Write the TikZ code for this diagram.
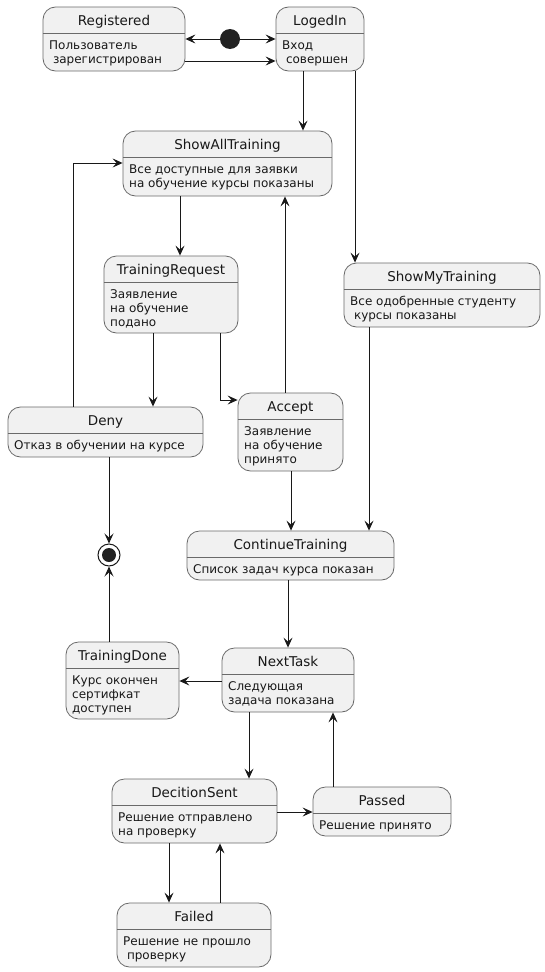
\documentclass[tikz,border=0pt]{standalone}
\usepackage{fontspec}
\setmainfont{DejaVu Sans}
\usetikzlibrary{arrows.meta,fit}

\definecolor{statefill}{HTML}{F1F1F1}
\definecolor{stateborder}{HTML}{6A6A6A}
\definecolor{linecol}{HTML}{181818}
\definecolor{dotcol}{HTML}{222222}

\tikzset{
  statebox/.style={draw=stateborder, fill=statefill, line width=0.8pt,
    rounded corners=12.5pt, inner sep=0pt},
  sepline/.style={draw=stateborder, line width=0.8pt},
  statetitle/.style={font=\fontsize{13.5}{16}\selectfont, text=linecol,
    anchor=base, inner sep=0pt},
  statebody/.style={font=\fontsize{12}{14}\selectfont, text=linecol,
    align=left, anchor=north west, inner sep=0pt},
  arr/.style={draw=linecol, line width=1pt,
    -{Stealth[length=10pt,width=9pt,inset=4pt]}},
}

% state: name, x1, y1, x2, y2, separator y, title, body
\newcommand\umlstate[8]{%
  \node[statebox, fit={(#2,#3) (#4,#5)}] (#1) {};
  \draw[sepline] (#1.west |- 0,#6) -- (#1.east |- 0,#6);
  \node[statetitle] (#1-title) at ({(#2+#4)/2},{#6-8}) {#7};
  \node[statebody] (#1-body) at ({#2+6},{#6+6}) {\rule{0pt}{10pt}#8};
}
\newcommand\lead{\hspace*{3.8pt}}

\begin{document}
\begin{tikzpicture}[x=1pt,y=-1pt]
\useasboundingbox (0,0) rectangle (545,972);

% states
\umlstate{Registered}{43}{7}{185}{71}{33}{Registered}{Пользователь\\\lead зарегистрирован}
\umlstate{LogedIn}{276}{7}{364}{71}{33}{LogedIn}{Вход\\\lead совершен}
\umlstate{ShowAllTraining}{123}{131}{332}{196}{157}{ShowAllTraining}{Все доступные для заявки\\на обучение курсы показаны}
\umlstate{TrainingRequest}{104}{256}{238}{333}{282}{TrainingRequest}{Заявление\\на обучение\\подано}
\umlstate{ShowMyTraining}{344}{263}{540}{327}{289}{ShowMyTraining}{Все одобренные студенту\\\lead курсы показаны}
\umlstate{Deny}{8}{407}{203}{457}{433}{Deny}{Отказ в обучении на курсе}
\umlstate{Accept}{238}{393}{343}{471}{419}{Accept}{Заявление\\на обучение\\принято}
\umlstate{ContinueTraining}{187}{531}{394}{580}{557}{ContinueTraining}{Список задач курса показан}
\umlstate{TrainingDone}{66}{642}{179}{719}{668}{TrainingDone}{Курс окончен\\сертифкат\\доступен}
\umlstate{NextTask}{222}{648}{354}{712}{674}{NextTask}{Следующая\\задача показана}
\umlstate{DecitionSent}{112}{779}{277}{843}{805}{DecitionSent}{Решение отправлено\\на проверку}
\umlstate{Passed}{313}{787}{451}{836}{813}{Passed}{Решение принято}
\umlstate{Failed}{117}{903}{271}{967}{929}{Failed}{Решение не прошло\\\lead проверку}

% initial and final pseudo-states
\node[circle, fill=dotcol, minimum size=20pt, inner sep=0pt] (init) at (230,39) {};
\node[circle, draw=linecol, fill=white, line width=1pt, minimum size=22pt, inner sep=0pt] (final) at (109,555) {};
\fill[dotcol] (final) circle (7pt);

% transitions
\draw[arr] (init) -- (init -| Registered.east);
\draw[arr] (init) -- (init -| LogedIn.west);
\draw[arr] (Registered.east |- 0,61) -- (LogedIn.west |- 0,61);
\draw[arr] (LogedIn.south -| 303,0) -- (ShowAllTraining.north -| 303,0);
\draw[arr] (LogedIn.south -| 355,0) -- (ShowMyTraining.north -| 355,0);
\draw[arr] (ShowAllTraining.south -| 180,0) -- (TrainingRequest.north -| 180,0);
\draw[arr] (TrainingRequest.south -| 153,0) -- (Deny.north -| 153,0);
\draw[arr] (TrainingRequest.south -| 220,0) |- (Accept.west |- 0,400);
\draw[arr] (Accept.north -| 285,0) -- (ShowAllTraining.south -| 285,0);
\draw[arr] (Deny.north -| 73,0) |- (ShowAllTraining.west |- 0,163);
\draw[arr] (Deny.south -| 109,0) -- (final.north);
\draw[arr] (TrainingDone.north -| 109,0) -- (final.south);
\draw[arr] (Accept.south -| 291,0) -- (ContinueTraining.north -| 291,0);
\draw[arr] (ShowMyTraining.south -| 369,0) -- (ContinueTraining.north -| 369,0);
\draw[arr] (ContinueTraining.south -| 288,0) -- (NextTask.north -| 288,0);
\draw[arr] (NextTask.west |- 0,681) -- (TrainingDone.east |- 0,681);
\draw[arr] (NextTask.south -| 249,0) -- (DecitionSent.north -| 249,0);
\draw[arr] (DecitionSent.east |- 0,812) -- (Passed.west |- 0,812);
\draw[arr] (Passed.north -| 333,0) -- (NextTask.south -| 333,0);
\draw[arr] (DecitionSent.south -| 169,0) -- (Failed.north -| 169,0);
\draw[arr] (Failed.north -| 220,0) -- (DecitionSent.south -| 220,0);
\end{tikzpicture}
\end{document}
